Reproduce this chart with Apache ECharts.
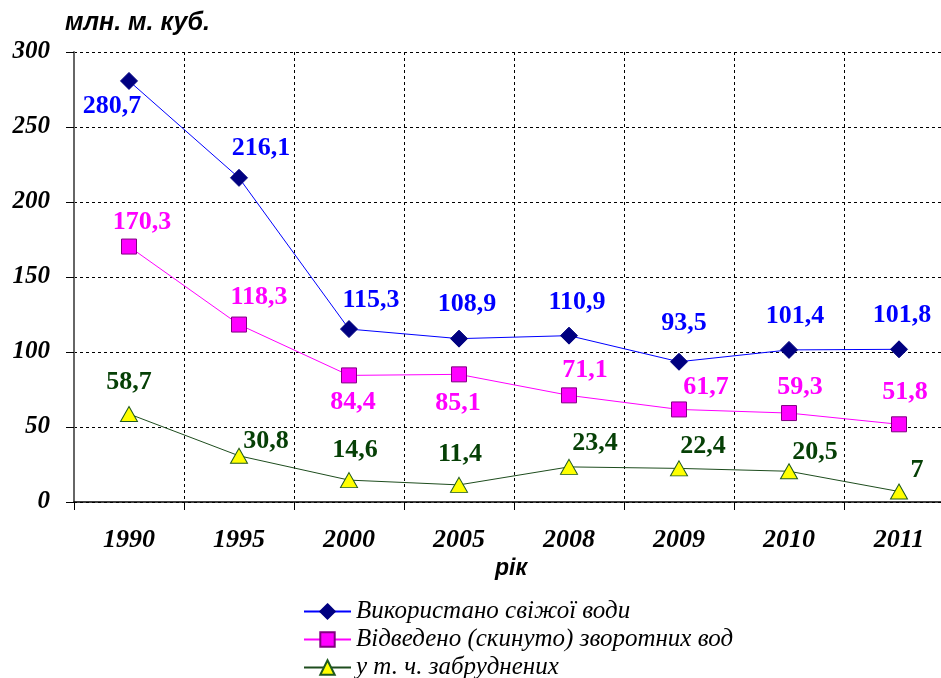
<!DOCTYPE html>
<html>
<head>
<meta charset="utf-8">
<script src="https://cdn.jsdelivr.net/npm/echarts@6/dist/echarts.min.js"></script>
<style>
  html, body { margin: 0; padding: 0; background: #fff; }
  #main { width: 941px; height: 678px; }
</style>
</head>
<body>
<div id="main"></div>
<script>
var years = ['1990', '1995', '2000', '2005', '2008', '2009', '2010', '2011'];
var freshWater = [280.7, 216.1, 115.3, 108.9, 110.9, 93.5, 101.4, 101.8];
var returnWater = [170.3, 118.3, 84.4, 85.1, 71.1, 61.7, 59.3, 51.8];
var polluted = [58.7, 30.8, 14.6, 11.4, 23.4, 22.4, 20.5, 7];
var yTicks = [0, 50, 100, 150, 200, 250, 300];

// зсув підписів відносно маркерів, px
var freshOffsets = [[-17, 25], [22, -30], [22, -29], [8, -34], [8, -33], [5, -38], [6, -34], [3, -34]];
var returnOffsets = [[13, -24], [20, -27], [4, 27], [-1, 29], [16, -25], [27, -22], [11, -26], [6, -32]];
var pollutedOffsets = [[0, -32], [27, -15], [6, -30], [1, -31], [26, -24], [24, -22], [26, -19], [18, -21]];

function fmt(v) {
    return String(v).replace('.', ',');
}

function withLabels(values, offsets, color) {
    return values.map(function (v, i) {
        return {
            value: v,
            label: {
                show: true,
                position: 'inside',
                offset: offsets[i],
                color: color,
                fontFamily: 'Liberation Serif',
                fontWeight: 'bold',
                fontSize: 26,
                formatter: function (p) { return fmt(p.value); }
            }
        };
    });
}

var myChart = echarts.init(document.getElementById('main'));

var option = {
    backgroundColor: '#fff',
    animation: false,
    grid: {
        left: 74,
        top: 52,
        width: 880,
        height: 450,
        outerBoundsMode: 'none',
        containLabel: false
    },
    graphic: [
        {
            type: 'text', left: 65, top: 11,
            style: { text: 'млн. м. куб.', font: 'italic bold 25px "Liberation Sans"', fill: '#000' }
        },
        {
            type: 'text', left: 495, top: 557,
            style: { text: 'рік', font: 'italic bold 23px "Liberation Sans"', fill: '#000' }
        }
    ],
    legend: {
        orient: 'vertical',
        left: 298,
        top: 594,
        height: 120,
        itemWidth: 47,
        itemHeight: 18,
        itemGap: 3,
        textStyle: {
            fontFamily: 'Liberation Serif',
            fontStyle: 'italic',
            fontSize: 25,
            color: '#000'
        },
        data: ['Використано свіжої води', 'Відведено (скинуто) зворотних вод', 'у т. ч. забруднених']
    },
    xAxis: {
        type: 'category',
        data: years,
        boundaryGap: true,
        axisLine: { lineStyle: { color: '#000', width: 1.5 } },
        axisTick: { show: true, length: 8, lineStyle: { color: '#000' } },
        splitLine: { show: true, lineStyle: { color: '#000', type: [3, 3], width: 1 } },
        axisLabel: {
            margin: 25,
            color: '#000',
            fontFamily: 'Liberation Serif',
            fontStyle: 'italic',
            fontWeight: 'bold',
            fontSize: 26
        }
    },
    yAxis: {
        type: 'value',
        min: yTicks[0],
        max: yTicks[yTicks.length - 1],
        interval: 50,
        axisLine: { show: true, lineStyle: { color: '#666', width: 2 } },
        axisTick: { show: true, length: 8, lineStyle: { color: '#000' } },
        splitLine: { show: true, lineStyle: { color: '#000', type: [3, 3], width: 1 } },
        axisLabel: {
            margin: 24,
            color: '#000',
            fontFamily: 'Liberation Serif',
            fontStyle: 'italic',
            fontWeight: 'bold',
            fontSize: 25
        }
    },
    series: [
        {
            name: 'Використано свіжої води',
            type: 'line',
            symbol: 'diamond',
            symbolSize: 17,
            itemStyle: { color: '#000080', borderColor: '#000080', borderWidth: 1 },
            lineStyle: { color: '#0000FF', width: 1 },
            z: 4,
            data: withLabels(freshWater, freshOffsets, '#0000FF')
        },
        {
            name: 'Відведено (скинуто) зворотних вод',
            type: 'line',
            symbol: 'rect',
            symbolSize: 15,
            itemStyle: { color: '#FF00FF', borderColor: '#800080', borderWidth: 1 },
            lineStyle: { color: '#FF00FF', width: 1 },
            z: 3,
            data: withLabels(returnWater, returnOffsets, '#FF00FF')
        },
        {
            name: 'у т. ч. забруднених',
            type: 'line',
            symbol: 'triangle',
            symbolSize: [17, 15],
            itemStyle: { color: '#FFFF00', borderColor: '#1E5A1E', borderWidth: 1 },
            lineStyle: { color: '#1E4D1E', width: 1 },
            z: 2,
            data: withLabels(polluted, pollutedOffsets, '#064006')
        }
    ]
};

myChart.setOption(option);
</script>
</body>
</html>
